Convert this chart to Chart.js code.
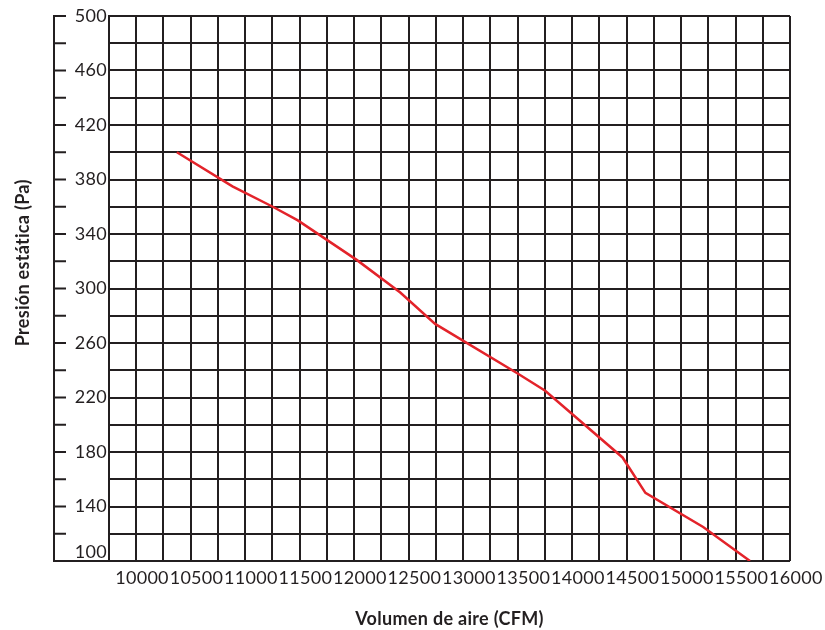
<!DOCTYPE html>
<html>
<head>
<meta charset="utf-8">
<script src="https://cdn.jsdelivr.net/npm/chart.js@4.4.1/dist/chart.umd.min.js"></script>
<style>
  html, body { margin: 0; padding: 0; background: #fff; }
</style>
</head>
<body>
<canvas id="curve-chart" width="825" height="630"></canvas>
<script>
// curve (CFM vs Pa)
const airflow = [10320, 10830, 11200, 11430, 11970, 12370, 12690, 13440, 13700, 14410, 14620, 15150, 15580];
const pressure = [400, 375, 360, 350, 321, 297, 274, 238, 225, 176, 150, 125, 100];

const xTickLabels = [10000, 10500, 11000, 11500, 12000, 12500, 13000, 13500, 14000, 14500, 15000, 15500, 16000];
const yTickLabels = [100, 140, 180, 220, 260, 300, 340, 380, 420, 460, 500];

const X_MIN = 9697;
const X_MAX = 15947;
const X_GRID_STEP = 250;
const Y_MIN = 100;
const Y_MAX = 500;
const Y_GRID_STEP = 20;

const INK = '#231f20';
const RED = '#e3232a';

Chart.defaults.font.family = 'Lato, "Open Sans", sans-serif';
Chart.defaults.color = INK;

function stepTicks(min, max, step) {
  const ticks = [];
  for (let v = min; v <= max + 0.001; v += step) ticks.push({ value: v });
  return ticks;
}

// the printed labels are slightly spaced out
const spacedText = {
  id: 'spacedText',
  beforeUpdate(chart) { chart.ctx.letterSpacing = '0.3px'; },
  beforeDraw(chart) { chart.ctx.letterSpacing = '0.3px'; },
};

// outer left spine with short ticks pointing inwards
const leftSpine = {
  id: 'leftSpine',
  afterDraw(chart) {
    const { ctx, chartArea, scales } = chart;
    const y = scales.y;
    const x0 = chartArea.left - 55;
    ctx.save();
    ctx.strokeStyle = INK;
    ctx.lineWidth = 2;
    ctx.beginPath();
    ctx.moveTo(x0, y.getPixelForValue(Y_MAX) - 1);
    ctx.lineTo(x0, chartArea.bottom);
    ctx.lineTo(chartArea.left, chartArea.bottom);
    stepTicks(Y_MIN, Y_MAX, Y_GRID_STEP).forEach(t => {
      const py = y.getPixelForValue(t.value);
      ctx.moveTo(x0, py);
      ctx.lineTo(x0 + 12, py);
    });
    ctx.stroke();
    ctx.restore();
  }
};

const ctx = document.getElementById('curve-chart').getContext('2d');
new Chart(ctx, {
  type: 'line',
  data: {
    datasets: [{
      data: airflow.map((v, i) => ({ x: v, y: pressure[i] })),
      borderColor: RED,
      borderWidth: 2.5,
      pointRadius: 0,
      tension: 0,
      xAxisID: 'x',
      yAxisID: 'y',
    }],
  },
  options: {
    responsive: false,
    animation: false,
    layout: { padding: { top: 16, right: 35, bottom: 0, left: 0 } },
    plugins: {
      legend: { display: false },
      tooltip: { enabled: false },
    },
    scales: {
      x: {
        type: 'linear',
        position: 'bottom',
        min: X_MIN,
        max: X_MAX,
        afterBuildTicks: s => { s.ticks = xTickLabels.map(v => ({ value: v })); },
        afterFit: s => { s.height = 69; },
        ticks: {
          autoSkip: false,
          maxRotation: 0,
          minRotation: 0,
          padding: 0,
          font: { size: 18 },
          callback: v => String(v),
        },
        grid: { display: false, drawTicks: true, tickLength: 6 },
        border: { display: false },
        title: {
          display: true,
          text: 'Volumen de aire (CFM)',
          font: { size: 18, weight: 'bold' },
          padding: { top: 0, bottom: 0 },
        },
      },
      xg: {
        type: 'linear',
        position: 'bottom',
        min: X_MIN,
        max: X_MAX,
        afterBuildTicks: s => { s.ticks = stepTicks(X_MIN, X_MAX, X_GRID_STEP); },
        ticks: { display: false },
        grid: { color: INK, lineWidth: 2, drawTicks: false },
        border: { display: false },
      },
      y: {
        type: 'linear',
        position: 'left',
        min: Y_MIN,
        max: Y_MAX,
        afterBuildTicks: s => { s.ticks = stepTicks(Y_MIN, Y_MAX, Y_GRID_STEP); },
        ticks: { display: false },
        grid: { color: INK, lineWidth: 2, drawTicks: false },
        border: { display: true, color: INK, width: 2 },
      },
      yl: {
        type: 'linear',
        position: 'left',
        min: Y_MIN,
        max: Y_MAX,
        // lowest label sits a little above the bottom line
        afterBuildTicks: s => {
          s.ticks = yTickLabels.map((v, i) => ({ value: i === 0 ? v + 6.5 : v }));
        },
        afterFit: s => { s.width = 109; },
        ticks: {
          autoSkip: false,
          padding: 2,
          font: { size: 18 },
          callback: (v, i) => String(yTickLabels[i]),
        },
        grid: { display: false, drawTicks: false },
        border: { display: false },
        title: {
          display: true,
          text: ' '.repeat(11) + 'Presión estática (Pa)',
          font: { size: 18, weight: 'bold' },
          padding: { top: 12, bottom: 0 },
        },
      },
    },
  },
  plugins: [spacedText, leftSpine],
});
</script>
</body>
</html>
